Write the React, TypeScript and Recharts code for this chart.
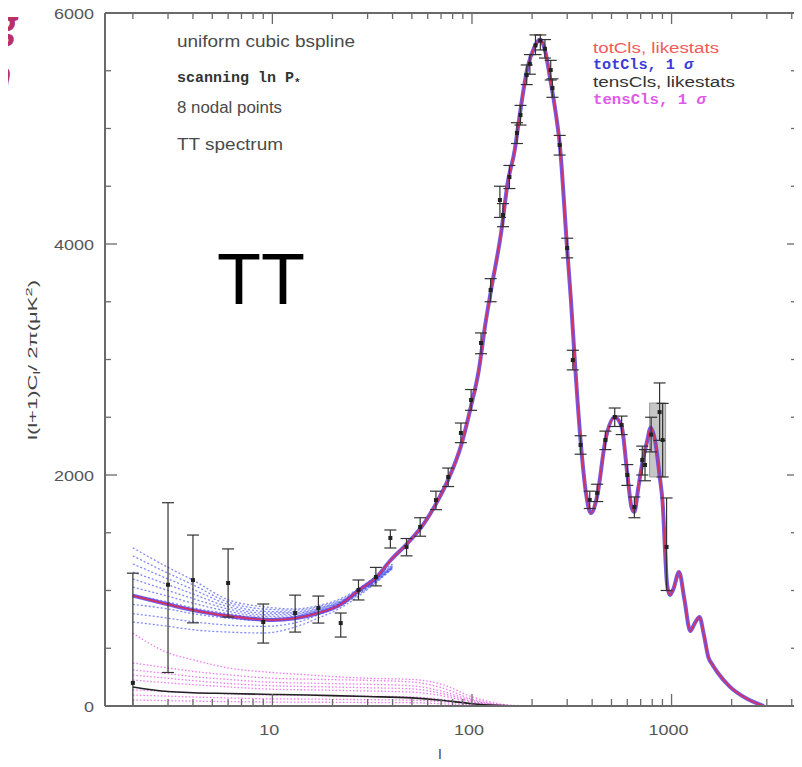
import React from 'react';
import { ComposedChart, Line, Scatter, ErrorBar, XAxis, YAxis, ReferenceArea } from 'recharts';

// totCls, likestats (best fit TT curve)
const ttL = [2, 3, 4, 5, 6, 8, 10, 13, 17, 22, 27, 33, 39, 47, 58, 66, 76, 88, 99, 108, 117, 124, 140, 151, 164, 170, 190, 205, 219, 232, 247, 262, 275, 300, 313, 330, 350, 372, 394, 424, 466, 519, 562, 600, 630, 651, 680, 713, 756, 785, 830, 870, 900, 950, 980, 1020, 1090, 1160, 1240, 1310, 1380, 1450, 1530, 1600, 1700, 1950, 2400, 2900];
const ttV = [955, 880, 830, 800, 780, 755, 745, 760, 805, 880, 1000, 1110, 1260, 1400, 1590, 1750, 1960, 2250, 2600, 2900, 3320, 3580, 4100, 4530, 4820, 5010, 5530, 5700, 5770, 5680, 5420, 5150, 4870, 3950, 3520, 2900, 2300, 1850, 1670, 1820, 2300, 2500, 2420, 2010, 1720, 1680, 1880, 2100, 2300, 2410, 2280, 2000, 1780, 1050, 960, 1010, 1160, 920, 650, 720, 770, 620, 420, 360, 290, 170, 60, 0];

// totCls, 1 sigma (low-l spread)
const blueL = [2, 3, 4, 6, 9, 13, 17, 22, 30, 40];
const blue1 = [1370, 1200, 1090, 920, 860, 840, 870, 930, 1070, 1230];
const blue2 = [1300, 1150, 1050, 900, 840, 830, 860, 920, 1060, 1220];
const blue3 = [1230, 1100, 1010, 880, 820, 815, 850, 910, 1050, 1215];
const blue4 = [1160, 1050, 970, 860, 805, 805, 840, 905, 1045, 1210];
const blue5 = [1100, 1000, 930, 840, 790, 795, 835, 900, 1040, 1205];
const blue6 = [1030, 950, 890, 820, 775, 785, 830, 895, 1035, 1200];
const blue7 = [960, 900, 850, 800, 760, 775, 820, 890, 1030, 1200];
const blue8 = [880, 840, 800, 760, 740, 760, 810, 880, 1025, 1195];
const blue9 = [800, 760, 730, 700, 690, 720, 790, 870, 1020, 1195];
const blue10 = [727, 690, 660, 640, 632, 684, 762, 850, 1010, 1190];

// tensCls, likestats
const tensL = [2, 3, 4, 6, 10, 15, 20, 30, 50, 70, 100, 130, 160, 200];
const tensV = [165, 125, 115, 108, 100, 95, 90, 82, 70, 50, 20, 6, 1, 0];

// tensCls, 1 sigma
const magL = [2, 3, 4, 6, 10, 15, 20, 30, 50, 70, 100, 150, 200];
const mag1 = [630, 460, 400, 330, 290, 270, 255, 240, 230, 190, 80, 10, 0];
const mag2 = [372, 330, 300, 270, 240, 232, 228, 222, 208, 160, 60, 5, 0];
const mag3 = [312, 280, 255, 230, 205, 198, 194, 188, 175, 130, 50, 4, 0];
const mag4 = [268, 240, 220, 195, 175, 168, 164, 158, 148, 110, 40, 3, 0];
const mag5 = [225, 200, 185, 165, 145, 140, 136, 130, 120, 90, 32, 2, 0];
const mag6 = [140, 125, 115, 105, 95, 92, 89, 85, 78, 58, 20, 2, 0];
const mag7 = [95, 85, 78, 70, 62, 60, 58, 55, 50, 38, 14, 1, 0];
const mag8 = [52, 46, 42, 38, 34, 33, 32, 30, 28, 20, 8, 1, 0];

// measured band powers with error bars
const ptL = [2, 3, 4, 6, 9, 13, 17, 22, 27, 33, 39, 47, 55, 66, 76, 88, 99, 111, 124, 138, 143, 154, 168, 175, 188, 195, 208, 220, 232, 248, 253, 275, 300, 320, 350, 389, 424, 466, 519, 562, 600, 651, 713, 736, 790, 871, 902, 944];
const ptV = [200, 1050, 1090, 1065, 727, 805, 848, 718, 1004, 1117, 1455, 1377, 1550, 1783, 1983, 2364, 2649, 3143, 3602, 4381, 4251, 4580, 4961, 5117, 5463, 5560, 5720, 5760, 5690, 5506, 5350, 4857, 3965, 2995, 2260, 1784, 1844, 2303, 2502, 2433, 2000, 1723, 2130, 2087, 2350, 2545, 2303, 1377];
const ptLo = [0, 290, 720, 770, 545, 640, 718, 597, 918, 1040, 1368, 1300, 1470, 1700, 1900, 2280, 2560, 3050, 3500, 4230, 4150, 4480, 4870, 5030, 5380, 5470, 5640, 5680, 5610, 5420, 5270, 4770, 3880, 2910, 2180, 1710, 1770, 2220, 2420, 2350, 1910, 1630, 2000, 1950, 2200, 2300, 1983, 1000];
const ptHi = [1150, 1760, 1480, 1360, 883, 960, 952, 805, 1091, 1200, 1524, 1450, 1630, 1860, 2060, 2450, 2740, 3230, 3700, 4500, 4350, 4680, 5050, 5200, 5550, 5640, 5810, 5810, 5770, 5590, 5430, 4940, 4050, 3080, 2340, 1860, 1920, 2380, 2580, 2510, 2090, 1810, 2250, 2220, 2500, 2797, 2620, 1801];

// shaded box around the third peak
const boxL = [776, 933];
const boxV = [1983, 2623];

const xTicks = [2, 3, 4, 5, 6, 7, 8, 9, 10, 20, 30, 40, 50, 60, 70, 80, 90, 100, 200, 300, 400, 500, 600, 700, 800, 900, 1000, 2000, 3000, 4000];
const xMajor = [10, 100, 1000];
const yTicks = [0, 500, 1000, 1500, 2000, 2500, 3000, 3500, 4000, 4500, 5000, 5500, 6000];
const yMajor = [0, 2000, 4000, 6000];

const rows = (ls: number[], vs: number[]) => ls.map((l, i) => ({ l, v: vs[i] }));
const ttRows = rows(ttL, ttV);
const blueSets = [blue1, blue2, blue3, blue4, blue5, blue6, blue7, blue8, blue9, blue10].map((b) => rows(blueL, b));
const magSets = [mag1, mag2, mag3, mag4, mag5, mag6, mag7, mag8].map((m) => rows(magL, m));
const tensRows = rows(tensL, tensV);
const ptRows = ptL.map((l, i) => ({ l, v: ptV[i], err: [ptV[i] - ptLo[i], ptHi[i] - ptV[i]] }));

const SANS = '"Liberation Sans", Arial, sans-serif';
const MONO = '"Liberation Mono", "DejaVu Sans Mono", monospace';
const AXIS = '#6a6a6a';

function BottomTick(props: any) {
  const { x, y, payload } = props;
  const major = xMajor.includes(payload.value);
  return (
    <g>
      <line x1={x} x2={x} y1={y} y2={y - (major ? 12 : 7)} stroke={AXIS} strokeWidth={1.3} />
      {major && (
        <text x={x - 3} y={y + 29} textAnchor="middle" fontFamily={SANS} fontSize={15} fill="#555"
          textLength={String(payload.value).length * 10} lengthAdjust="spacingAndGlyphs">
          {payload.value}
        </text>
      )}
    </g>
  );
}

function TopTick(props: any) {
  const { x, y, payload } = props;
  const major = xMajor.includes(payload.value);
  return <line x1={x} x2={x} y1={y} y2={y + (major ? 11 : 6)} stroke={AXIS} strokeWidth={1.3} />;
}

function LeftTick(props: any) {
  const { x, y, payload } = props;
  const major = yMajor.includes(payload.value);
  return (
    <g>
      <line x1={x} x2={x + (major ? 12 : 6)} y1={y} y2={y} stroke={AXIS} strokeWidth={1.3} />
      {major && (
        <text x={x - 11} y={y + 6} textAnchor="end" fontFamily={SANS} fontSize={15} fill="#555"
          textLength={String(payload.value).length * 10} lengthAdjust="spacingAndGlyphs">
          {payload.value}
        </text>
      )}
    </g>
  );
}

function RightTick(props: any) {
  const { x, y, payload } = props;
  const major = yMajor.includes(payload.value);
  return <line x1={x} x2={x - (major ? 10 : 6)} y1={y} y2={y} stroke={AXIS} strokeWidth={1.3} />;
}

const dot = (p: any) => <rect x={p.cx - 2} y={p.cy - 2} width={4} height={4} fill="#222" />;

export default function App() {
  return (
    <div style={{ position: 'relative', margin: -8, width: 802, height: 767, background: '#fff' }}>
      <ComposedChart width={802} height={767} margin={{ top: 0, right: 0, bottom: 0, left: 0 }}>
        <XAxis xAxisId="b" dataKey="l" type="number" scale="log" domain={[1.45, 4250]} allowDataOverflow
          ticks={xTicks} interval={0} tick={<BottomTick />} tickLine={false} tickSize={0} tickMargin={0}
          height={61} stroke={AXIS} axisLine={{ stroke: AXIS, strokeWidth: 2 }} />
        <XAxis xAxisId="t" orientation="top" dataKey="l" type="number" scale="log" domain={[1.45, 4250]} allowDataOverflow
          ticks={xTicks} interval={0} tick={<TopTick />} tickLine={false} tickSize={0} tickMargin={0}
          height={13} axisLine={{ stroke: AXIS, strokeWidth: 2 }} />
        <YAxis yAxisId="l" dataKey="v" type="number" domain={[0, 6000]} allowDataOverflow
          ticks={yTicks} interval={0} tick={<LeftTick />} tickLine={false} tickSize={0} tickMargin={0}
          width={105} axisLine={{ stroke: AXIS, strokeWidth: 2 }} />
        <YAxis yAxisId="r" orientation="right" dataKey="v" type="number" domain={[0, 6000]} allowDataOverflow
          ticks={yTicks} interval={0} tick={<RightTick />} tickLine={false} tickSize={0} tickMargin={0}
          width={5} axisLine={{ stroke: AXIS, strokeWidth: 2 }} />

        <ReferenceArea xAxisId="b" yAxisId="l" x1={boxL[0]} x2={boxL[1]} y1={boxV[0]} y2={boxV[1]}
          fill="#b8b8b8" fillOpacity={0.8} stroke="#999" />

        {magSets.map((d, i) => (
          <Line key={`m${i}`} xAxisId="b" yAxisId="l" data={d} dataKey="v" type="monotone" stroke="#e84de8"
            strokeOpacity={0.75} strokeWidth={1.3} strokeDasharray="1.5 2" dot={false} isAnimationActive={false} />
        ))}
        <Line xAxisId="b" yAxisId="l" data={tensRows} dataKey="v" type="monotone" stroke="#222"
          strokeWidth={1.6} dot={false} isAnimationActive={false} />

        {blueSets.map((d, i) => (
          <Line key={`b${i}`} xAxisId="b" yAxisId="l" data={d} dataKey="v" type="monotone" stroke="#4a58f0"
            strokeOpacity={0.7} strokeWidth={1.3} strokeDasharray="2 2" dot={false} isAnimationActive={false} />
        ))}
        <Line xAxisId="b" yAxisId="l" data={ttRows} dataKey="v" type="monotone" stroke="#5a3de0"
          strokeWidth={4} strokeOpacity={0.85} dot={false} isAnimationActive={false} />
        <Line xAxisId="b" yAxisId="l" data={ttRows} dataKey="v" type="monotone" stroke="#d8305e"
          strokeWidth={1.6} dot={false} isAnimationActive={false} />

        <Scatter xAxisId="b" yAxisId="l" data={ptRows} dataKey="v" shape={dot} isAnimationActive={false}>
          <ErrorBar dataKey="err" direction="y" width={6} stroke="#333" strokeWidth={1.2} isAnimationActive={false} />
        </Scatter>
      </ComposedChart>

      <svg width={802} height={767} style={{ position: 'absolute', left: 0, top: 0, pointerEvents: 'none' }}>
        <g fill="#b8306a" fontFamily='"Open Sans", sans-serif' fontWeight="bold" fontStyle="italic" textAnchor="end">
          <text x={17} y={38} fontSize={38}>g</text>
          <text x={12} y={92} fontSize={44}>n</text>
        </g>

        <g fill="#4a4a4a" fontFamily={SANS} fontSize={16}>
          <text x={177} y={47} textLength={178} lengthAdjust="spacingAndGlyphs">uniform cubic bspline</text>
          <text x={177} y={82} fontFamily={MONO} fontWeight="bold" fontSize={15} fill="#333">
            scanning ln P<tspan fontSize={11} dy={4}>*</tspan>
          </text>
          <text x={177} y={113} textLength={105} lengthAdjust="spacingAndGlyphs">8 nodal points</text>
          <text x={177} y={150} textLength={106} lengthAdjust="spacingAndGlyphs">TT spectrum</text>
        </g>

        <text x={217} y={304} fontFamily={SANS} fontSize={72} fill="#000">TT</text>

        <g fontSize={14}>
          <text x={593} y={53} fontFamily={SANS} fill="#f05a5a" textLength={126} lengthAdjust="spacingAndGlyphs">totCls, likestats</text>
          <text x={593} y={69} fontFamily={MONO} fontWeight="bold" fill="#3b3bd9" textLength={100} lengthAdjust="spacingAndGlyphs">
            totCls, 1 <tspan fontStyle="italic">σ</tspan>
          </text>
          <text x={593} y={87} fontFamily={SANS} fill="#333" textLength={142} lengthAdjust="spacingAndGlyphs">tensCls, likestats</text>
          <text x={593} y={104} fontFamily={MONO} fontWeight="bold" fill="#e05ae8" textLength={113} lengthAdjust="spacingAndGlyphs">
            tensCls, 1 <tspan fontStyle="italic">σ</tspan>
          </text>
        </g>

        <text x={37} y={360} transform="rotate(-90, 37, 360)" textAnchor="middle" fontFamily={SANS} fontSize={12} fill="#444"
          textLength={160} lengthAdjust="spacingAndGlyphs">
          l(l+1)C<tspan fontSize={9} dy={3}>l</tspan><tspan dy={-3}>/ 2π(μK</tspan><tspan fontSize={9} dy={-5}>2</tspan><tspan dy={5}>)</tspan>
        </text>
        <text x={440} y={760} textAnchor="middle" fontFamily={SANS} fontSize={15} fill="#444">l</text>
      </svg>
    </div>
  );
}
